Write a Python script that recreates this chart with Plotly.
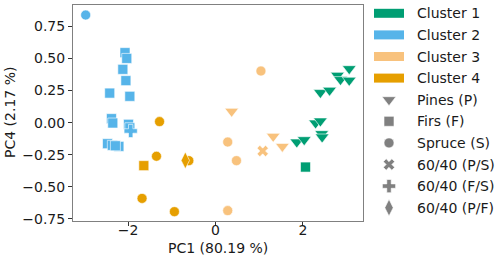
import plotly.graph_objects as go

# ---- data ----
clusters = ["Cluster 1", "Cluster 2", "Cluster 3", "Cluster 4"]
cluster_colors = ["#009E73", "#56B4E9", "#F8C27D", "#E69F00"]
species_names = ["Pines (P)", "Firs (F)", "Spruce (S)", "60/40 (P/S)", "60/40 (F/S)", "60/40 (P/F)"]
species_symbols = ["triangle-down", "square", "circle", "x", "cross", "diamond-tall"]
species_sizes = [12, 10, 10, 10, 11, 12]

c1_pc1 = [2.06, 1.86, 2.03, 2.29, 2.40, 2.43, 2.44, 2.40, 2.61, 2.79, 2.86, 3.06, 3.06]
c1_pc4 = [-0.346, -0.151, -0.133, -0.003, 0.013, -0.086, -0.112, 0.234, 0.252, 0.368, 0.335, 0.42, 0.33]
c1_sp = ["F", "P", "P", "P", "P", "P", "P", "P", "P", "P", "P", "P", "P"]

c2_pc1 = [-2.97, -2.07, -2.03, -2.12, -2.05, -2.42, -1.96, -2.38, -2.35, -1.99, -1.96, -2.47, -2.36, -2.21, -2.29, -1.94]
c2_pc4 = [0.838, 0.545, 0.50, 0.415, 0.327, 0.23, 0.205, 0.031, -0.003, -0.013, -0.04, -0.164, -0.177, -0.185, -0.18, -0.065]
c2_sp = ["S", "F", "F", "F", "F", "F", "F", "F", "F", "F", "F", "F", "F", "F", "F", "F/S"]

c3_pc1 = [0.37, 1.32, 1.53, 0.28, 0.48, 0.28, 1.04, 1.08]
c3_pc4 = [0.088, -0.107, -0.185, -0.151, -0.296, -0.685, 0.402, -0.221]
c3_sp = ["P", "P", "P", "S", "S", "S", "S", "P/S"]

c4_pc1 = [-1.28, -1.35, -0.61, -1.68, -0.94, -1.64, -0.69]
c4_pc4 = [0.008, -0.262, -0.296, -0.59, -0.693, -0.335, -0.294]
c4_sp = ["S", "S", "S", "S", "S", "F", "P/F"]

species_codes = ["P", "F", "S", "P/S", "F/S", "P/F"]

x_ticks = [-2, 0, 2]
y_ticks = [0.75, 0.50, 0.25, 0.00, -0.25, -0.50, -0.75]
x_title = "PC1 (80.19 %)"
y_title = "PC4 (2.17 %)"

W, H = 500, 262
L, R, T, B = 73, 363, 5, 221  # plot area in pixels

fig = go.Figure()

all_data = [(c1_pc1, c1_pc4, c1_sp), (c2_pc1, c2_pc4, c2_sp), (c3_pc1, c3_pc4, c3_sp), (c4_pc1, c4_pc4, c4_sp)]
for ci, (xs, ys, sps) in enumerate(all_data):
    for si, code in enumerate(species_codes):
        px = [x for x, s in zip(xs, sps) if s == code]
        py = [y for y, s in zip(ys, sps) if s == code]
        if not px:
            continue
        fig.add_trace(go.Scatter(
            x=px, y=py, mode="markers", showlegend=False,
            marker=dict(symbol=species_symbols[si], size=species_sizes[si],
                        color=cluster_colors[ci], line=dict(color="white", width=0.6)),
            xaxis="x", yaxis="y"))

# ---- manual legend (pixel coordinates on auxiliary axis) ----
row0, dy = 13.3, 21.6
patch_x0, patch_x1, text_x = 374, 404, 416
txt_font = dict(size=14, color="#1a1a1a", family="DejaVu Sans")
for i, (name, col) in enumerate(zip(clusters, cluster_colors)):
    yc = row0 + i * dy
    fig.add_shape(type="rect", xref="x2", yref="y2", x0=patch_x0, x1=patch_x1,
                  y0=yc - 4.5, y1=yc + 4.5, fillcolor=col, line=dict(width=0))
    fig.add_annotation(x=text_x, y=yc, xref="x2", yref="y2", text=name, showarrow=False,
                       xanchor="left", yanchor="middle", font=txt_font, borderpad=0)
for j, name in enumerate(species_names):
    yc = row0 + (len(clusters) + j) * dy
    fig.add_trace(go.Scatter(
        x=[(patch_x0 + patch_x1) / 2], y=[yc], mode="markers", showlegend=False,
        marker=dict(symbol=species_symbols[j], size=species_sizes[j], color="#808080",
                    line=dict(color="white", width=0.6)),
        xaxis="x2", yaxis="y2", hoverinfo="skip"))
    fig.add_annotation(x=text_x, y=yc, xref="x2", yref="y2", text=name, showarrow=False,
                       xanchor="left", yanchor="middle", font=txt_font, borderpad=0)

# axis titles
fig.add_annotation(x=(L + R) / 2, y=248, xref="x2", yref="y2", text=x_title, showarrow=False,
                   xanchor="center", yanchor="middle", font=txt_font)
fig.add_annotation(x=10, y=(T + B) / 2, xref="x2", yref="y2", text=y_title, showarrow=False,
                   textangle=-90, xanchor="center", yanchor="middle", font=txt_font)

axis_common = dict(showgrid=False, zeroline=False, showline=True, linecolor="#808080",
                   linewidth=1, mirror=True, ticks="outside", ticklen=4, tickcolor="#333333",
                   tickfont=dict(size=14, color="#1a1a1a", family="DejaVu Sans"), automargin=False)

fig.update_layout(
    width=W, height=H, margin=dict(l=0, r=0, t=0, b=0, pad=0),
    paper_bgcolor="white", plot_bgcolor="rgba(0,0,0,0)",
    font=dict(family="DejaVu Sans"),
    xaxis=dict(domain=[L / W, R / W], range=[-3.26, 3.375], tickvals=x_ticks,
               ticklabelstandoff=-8, **axis_common),
    yaxis=dict(domain=[1 - B / H, 1 - T / H], range=[-0.766, 0.916], tickvals=y_ticks,
               tickformat=".2f", **axis_common),
    xaxis2=dict(domain=[0, 1], range=[0, W], visible=False, fixedrange=True, anchor="y2"),
    yaxis2=dict(domain=[0, 1], range=[H, 0], visible=False, fixedrange=True, anchor="x2"),
)

fig.write_html("out.html", config={"displayModeBar": False},
               post_script="document.body.style.margin='0';")
